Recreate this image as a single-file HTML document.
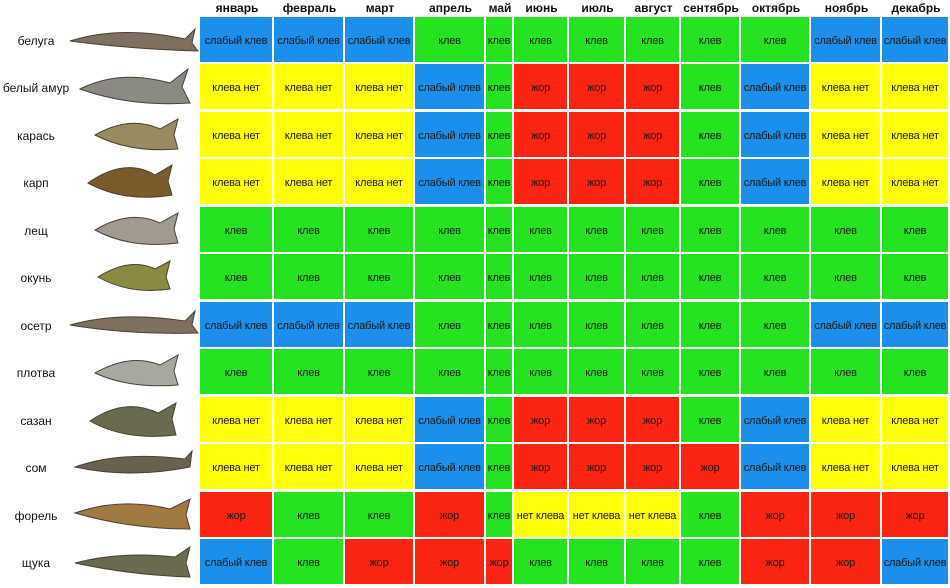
<!DOCTYPE html>
<html><head><meta charset="utf-8"><style>
body{margin:0;width:950px;height:586px;background:#fff;overflow:hidden;font-family:"Liberation Sans",sans-serif;}
.h{position:absolute;top:0;height:17px;line-height:17px;font-size:12px;font-weight:bold;text-align:center;color:#111}
.c{position:absolute;height:45px;line-height:49px;font-size:11px;text-align:center;color:#1a1a1a;white-space:nowrap;overflow:hidden;letter-spacing:-0.2px}
.n{position:absolute;left:0;width:72px;height:47px;line-height:49px;font-size:12px;text-align:center;color:#111}
.B{background:#1b8fe9}.G{background:#25e321}.Y{background:#ffff0a}.R{background:#fb2311}
</style></head><body>
<div id="w"></div>
<svg style="position:absolute;left:60px;top:17px" width="140" height="569">
<g fill="#7d7060" stroke="#4a4036" stroke-width="1">
<path d="M10,24 Q60,8 125,22 L135,12 L132,26 L138,34 Q70,32 10,24Z"/>
<path d="M20,72 Q60,52 110,66 L128,52 L122,70 L130,86 Q70,90 20,72Z" fill="#8a8a80"/>
<path d="M35,118 Q70,98 100,112 L118,102 L114,118 L118,132 Q70,136 35,118Z" fill="#9a8a60"/>
<path d="M28,166 Q65,140 95,158 L112,148 L108,164 L112,178 Q65,186 28,166Z" fill="#7a5a2a"/>
<path d="M35,213 Q70,192 100,206 L118,196 L114,212 L118,226 Q70,232 35,213Z" fill="#a09a90"/>
<path d="M38,260 Q70,240 95,252 L110,244 L106,260 L110,272 Q70,278 38,260Z" fill="#8a8a40"/>
<path d="M10,308 Q60,294 125,304 L135,294 L132,308 L138,316 Q70,318 10,308Z"/>
<path d="M35,356 Q70,336 100,348 L118,338 L114,354 L118,368 Q70,372 35,356Z" fill="#a8a8a0"/>
<path d="M30,404 Q65,380 98,396 L116,386 L112,402 L116,418 Q65,424 30,404Z" fill="#6a6a50"/>
<path d="M15,450 Q60,434 125,442 L132,434 L130,450 Q70,462 15,450Z" fill="#6a6050"/>
<path d="M15,496 Q60,480 110,492 L130,482 L126,498 L130,512 Q70,512 15,496Z" fill="#a07a40"/>
<path d="M15,546 Q60,534 115,540 L130,530 L126,546 L130,560 Q70,558 15,546Z" fill="#6a6a50"/>
</g></svg>
<script>
(function(){
var L=[200,274,345,415,486,514,569,626,681,741,811,882,950];
var M=["январь","февраль","март","апрель","май","июнь","июль","август","сентябрь","октябрь","ноябрь","декабрь"];
var F=["белуга","белый амур","карась","карп","лещ","окунь","осетр","плотва","сазан","сом","форель","щука"];
var D=["BBBGGGGGGGBB","YYYBGRRRGBYY","YYYBGRRRGBYY","YYYBGRRRGBYY","GGGGGGGGGGGG","GGGGGGGGGGGG","BBBGGGGGGGBB","GGGGGGGGGGGG","YYYBGRRRGBYY","YYYBGRRRRBYY","RGGRGYYYGRRR","BGRRRGGGGRRB"];
var T={B:"слабый клев",G:"клев",Y:"клева нет",R:"жор"};
var h="";
for(var j=0;j<12;j++)h+='<div class="h" style="left:'+L[j]+'px;width:'+(L[j+1]-L[j])+'px">'+M[j]+'</div>';
for(var i=0;i<12;i++){var yy=Math.round(17+i*47.45);
h+='<div class="n" style="top:'+yy+'px">'+F[i]+'</div>';
for(var j=0;j<12;j++){var k=D[i][j];var t=T[k];if(i==10&&k=="Y")t="нет клева";
h+='<div class="c '+k+'" style="left:'+L[j]+'px;top:'+yy+'px;width:'+(L[j+1]-L[j]-2)+'px">'+t+'</div>';}}
document.getElementById("w").innerHTML=h;
})();
</script>
</body></html>
